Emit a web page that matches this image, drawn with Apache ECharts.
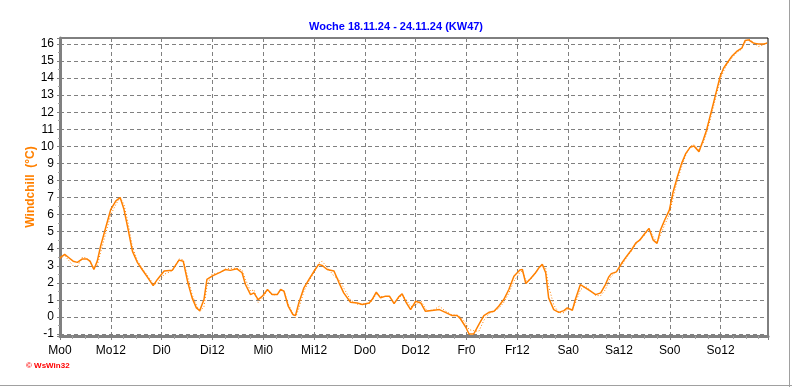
<!DOCTYPE html>
<html>
<head>
<meta charset="utf-8">
<script src="https://cdn.jsdelivr.net/npm/echarts@6/dist/echarts.min.js"></script>
<style>
html,body{margin:0;padding:0;background:#fff;}
#c{width:792px;height:387px;}
</style>
</head>
<body>
<div id="c"></div>
<script>
var titleText = 'Woche 18.11.24 - 24.11.24 (KW47)';
var yName = 'Windchill  (°C)';
var xTickLabels = ['Mo0','Mo12','Di0','Di12','Mi0','Mi12','Do0','Do12','Fr0','Fr12','Sa0','Sa12','So0','So12'];
var hours = [0,1.1,2.1,3.1,4.1,5.3,6.3,7.1,8.0,8.8,9.6,10.8,12,13.2,14.2,15.1,16,17.1,18.3,19.4,20.6,22,23,24.6,26.5,28.1,29.1,30.2,31.2,32.2,33,34,34.7,35.9,37.9,39.1,40.2,41.8,43,43.8,45,45.8,46.8,47.8,49,50.1,51.3,52.1,52.9,53.9,55,55.6,56.4,57.6,58.8,60,61.1,61.9,63.1,64.7,65.9,67,68.6,70.2,71.4,73,73.7,74.7,75.7,76.9,77.8,78.9,80,80.8,81.8,82.8,84,85.2,86.3,86.7,88.3,89.6,91,92.6,93.8,94.6,95.8,96.6,97.7,98.9,100.1,101.3,102.5,103.6,104.8,106,107.2,108.6,109.2,110,111.1,112.3,113.1,113.9,114.7,115.4,116.6,117.8,119,119.8,121,121.7,122.9,124.1,125.3,126.5,127.7,128.8,129.6,130.2,131.4,132.6,133.7,134.9,136,136.9,138.1,139.1,140.1,141,141.8,142.8,143.9,144.8,145.8,146.8,147.8,148.8,149.7,150.9,151.9,152.7,153.5,154.3,155.1,155.9,156.7,157.5,158.6,159.8,161,161.8,162.6,163.8,164.9,166.2,167];
var windchill = [3.47,3.67,3.47,3.27,3.2,3.4,3.4,3.27,2.78,3.27,4.16,5.24,6.31,6.8,7.0,6.31,5.24,3.86,3.18,2.78,2.35,1.84,2.2,2.69,2.73,3.33,3.27,2.0,1.12,0.53,0.37,1.02,2.2,2.39,2.63,2.78,2.73,2.82,2.59,1.9,1.31,1.41,1.02,1.22,1.61,1.31,1.31,1.61,1.51,0.63,0.14,0.08,0.82,1.71,2.2,2.69,3.08,3.02,2.78,2.69,2.0,1.41,0.86,0.82,0.73,0.82,1.02,1.45,1.12,1.22,1.22,0.78,1.18,1.35,0.82,0.43,0.92,0.82,0.33,0.27,0.39,0.43,0.27,0.08,0.08,-0.12,-0.59,-1.0,-1.0,-0.45,0.08,0.27,0.33,0.63,1.02,1.61,2.39,2.75,2.78,1.96,2.24,2.59,2.88,3.08,2.59,1.12,0.43,0.27,0.37,0.53,0.39,1.02,1.9,1.71,1.51,1.31,1.41,1.9,2.35,2.54,2.64,3.13,3.52,3.91,4.34,4.5,4.89,5.19,4.5,4.31,5.09,5.68,6.26,7.34,8.22,9.0,9.59,9.94,10.02,9.69,10.37,10.96,11.74,12.52,13.31,14.09,14.58,14.87,15.26,15.56,15.75,16.2,16.24,16.05,16.0,16.0,16.05];
var windchill2 = [3.4,3.6,3.3,3.0,2.95,3.5,3.45,3.2,2.9,3.0,3.8,4.9,6.0,6.6,7.0,6.6,5.6,4.1,3.3,2.85,2.45,1.95,1.95,2.5,2.7,3.4,3.35,2.3,1.3,0.7,0.3,0.6,1.8,2.5,2.6,2.8,2.85,2.85,2.75,2.2,1.5,1.6,0.85,1.1,1.55,1.3,1.3,1.6,1.5,0.75,0.2,-0.05,0.5,1.5,2.1,2.6,3.15,3.27,2.9,2.4,2.2,1.7,1.0,0.75,0.75,0.78,0.95,1.35,1.2,1.2,1.2,0.85,1.1,1.3,1.0,0.6,0.7,0.95,0.5,0.35,0.42,0.63,0.35,0.12,0.1,0.0,-0.35,-0.75,-0.8,-0.85,-0.2,0.2,0.35,0.5,0.85,1.4,2.1,2.6,2.7,2.1,2.2,2.55,2.9,3.1,2.85,1.8,0.7,0.25,0.25,0.45,0.45,0.8,1.6,1.8,1.55,1.25,1.25,1.6,2.1,2.4,2.65,3.0,3.45,3.85,4.25,4.55,4.8,5.2,4.7,4.35,4.8,5.4,6.0,7.0,8.0,8.8,9.5,10.0,10.1,9.8,10.2,10.8,11.5,12.3,13.1,13.9,14.4,14.8,15.15,15.5,15.7,16.1,16.3,16.1,15.85,15.95,16.1];

function pairs(xs, ys){ var out=[]; for(var i=0;i<xs.length;i++){ out.push([xs[i], ys[i]]); } return out; }

var chart = echarts.init(document.getElementById('c'), null, {renderer:'canvas'});
var fontFam = 'Liberation Sans, Arial, sans-serif';
chart.setOption({
  animation:false,
  backgroundColor:'#ffffff',
  title:{
    text:titleText, left:'center', top:16,
    textStyle:{color:'#0000ff', fontSize:11, fontWeight:'bold', fontFamily:fontFam}
  },
  grid:{left:60, right:24, top:38, bottom:51, show:true, borderColor:'#000000', borderWidth:1, backgroundColor:'transparent'},
  xAxis:{
    type:'value', min:0, max:167.2, interval:12,
    axisLine:{show:true, onZero:false, lineStyle:{color:'#808080', width:3}},
    axisTick:{show:true, length:4, lineStyle:{color:'#808080', width:1}},
    minorTick:{show:true, splitNumber:4, length:3, lineStyle:{color:'#a0a0a0', width:1}},
    splitLine:{show:true, showMinLine:false, showMaxLine:false, lineStyle:{color:'#808080', width:1, type:[4,3]}},
    axisLabel:{
      color:'#000', fontSize:12, fontFamily:fontFam, margin:9, showMaxLabel:false,
      formatter:function(v){ var k=Math.round(v/12); if(Math.abs(v-k*12)>0.01) return ''; return xTickLabels[k]||''; }
    }
  },
  yAxis:{
    type:'value', min:-1.117, max:16.35, splitNumber:17,
    name:yName, nameLocation:'middle', nameGap:23, nameRotate:90, nameMoveOverlap:false,
    nameTextStyle:{color:'#ff8000', fontSize:12, fontWeight:'bold', fontFamily:fontFam},
    axisLine:{show:true, onZero:false, lineStyle:{color:'#808080', width:3}},
    axisTick:{show:true, length:3, lineStyle:{color:'#808080', width:1}},
    minorTick:{show:true, splitNumber:2, length:2, lineStyle:{color:'#a0a0a0', width:1}},
    splitLine:{show:true, showMinLine:false, showMaxLine:false, lineStyle:{color:'#808080', width:1, type:[4,3]}},
    axisLabel:{
      color:'#000', fontSize:12, fontFamily:fontFam, margin:6, showMinLabel:false, showMaxLabel:false,
      formatter:function(v){ if(Math.abs(v-Math.round(v))>0.01) return ''; return String(Math.round(v)); }
    }
  },
  graphic:[
    {type:'text', left:26, top:362, style:{text:'© WsWin32', fill:'#ff0000', font:'bold 8px '+fontFam}},
    {type:'line', shape:{x1:0, y1:385.5, x2:792, y2:385.5}, style:{stroke:'#a0a0a0', lineWidth:1}},
    {type:'line', shape:{x1:789.5, y1:0, x2:789.5, y2:387}, style:{stroke:'#a0a0a0', lineWidth:1}}
  ],
  series:[
    {type:'line', data:pairs(hours, windchill2), showSymbol:false, smooth:false, z:2,
     lineStyle:{color:'#ff8000', width:1, type:[1,2]}},
    {type:'line', data:pairs(hours, windchill), showSymbol:false, smooth:false, z:3,
     lineStyle:{color:'#ff8000', width:1.5}}
  ]
});
</script>
</body>
</html>
